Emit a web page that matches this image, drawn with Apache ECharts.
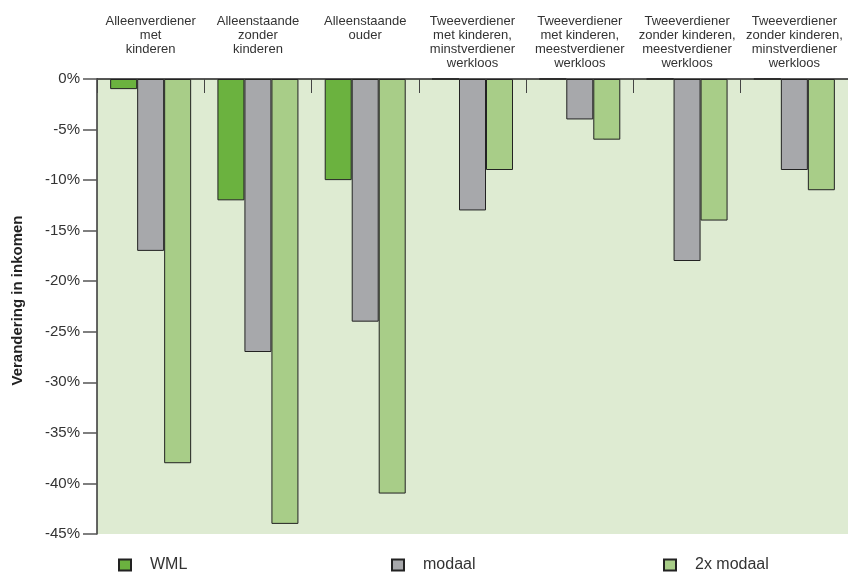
<!DOCTYPE html>
<html>
<head>
<meta charset="utf-8">
<script src="https://cdn.jsdelivr.net/npm/echarts@6/dist/echarts.min.js"></script>
<style>html,body{margin:0;padding:0;background:#fff}#c{width:848px;height:572px}</style>
</head>
<body>
<div id="c"></div>
<script>
const categories = [
  "Alleenverdiener\nmet\nkinderen",
  "Alleenstaande\nzonder\nkinderen",
  "Alleenstaande\nouder",
  "Tweeverdiener\nmet kinderen,\nminstverdiener\nwerkloos",
  "Tweeverdiener\nmet kinderen,\nmeestverdiener\nwerkloos",
  "Tweeverdiener\nzonder kinderen,\nmeestverdiener\nwerkloos",
  "Tweeverdiener\nzonder kinderen,\nminstverdiener\nwerkloos"
];
const seriesNames = ["WML", "modaal", "2x modaal"];
const wml = [-1, -12, -10, 0, 0, 0, 0];
const modaal = [-17, -27, -24, -13, -4, -18, -9];
const tweeModaal = [-38, -44, -41, -9, -6, -14, -11];
const yTicks = { min: -45, max: 0, interval: 5 };
const yAxisTitle = "Verandering in inkomen";

const colors = ["#6bb23f", "#a7a8ab", "#a8cd88"];
const values = [wml, modaal, tweeModaal];
const font = "Liberation Sans";

const chart = echarts.init(document.getElementById('c'), null, { renderer: 'canvas' });
chart.setOption({
  animation: false,
  textStyle: { fontFamily: font },
  grid: {
    left: 97, right: -5, top: 79, bottom: 38,
    show: true, backgroundColor: "#deebd2", borderWidth: 0
  },
  legend: seriesNames.map((n, i) => ({
    data: [n],
    left: [113, 386, 658][i],
    top: 552,
    icon: 'rect',
    itemWidth: 12,
    itemHeight: 11,
    selectedMode: false,
    textStyle: { fontSize: 16, color: "#333", fontFamily: font, padding: [0, 0, 0, 14] }
  })),
  xAxis: {
    type: 'category',
    data: categories,
    position: 'top',
    axisLine: { show: true, onZero: false, lineStyle: { color: "#222", width: 1.5 } },
    axisTick: { show: true, inside: true, length: 14, lineStyle: { color: "#444", width: 1 } },
    axisLabel: {
      interval: 0,
      verticalAlign: 'top',
      margin: 65,
      fontSize: 13,
      lineHeight: 14,
      color: "#333",
      fontFamily: font
    },
    splitLine: { show: false }
  },
  yAxis: {
    type: 'value',
    min: yTicks.min, max: yTicks.max, interval: yTicks.interval,
    name: yAxisTitle,
    nameLocation: 'middle',
    nameGap: 72,
    nameTextStyle: { fontSize: 15, fontWeight: 'bold', color: "#222", fontFamily: font, padding: [0, 0, 0, 12] },
    axisLine: { show: true, lineStyle: { color: "#333", width: 1.5 } },
    axisTick: { show: true, length: 14, lineStyle: { color: "#555", width: 1.5 } },
    axisLabel: { formatter: '{value}%', fontSize: 15, color: "#333", margin: 17, fontFamily: font },
    splitLine: { show: false }
  },
  series: seriesNames.map((n, i) => ({
    name: n,
    type: 'bar',
    data: values[i],
    barWidth: 27,
    barGap: '0%',
    itemStyle: { color: colors[i], borderColor: "#222", borderWidth: 1 }
  }))
});
</script>
</body>
</html>
